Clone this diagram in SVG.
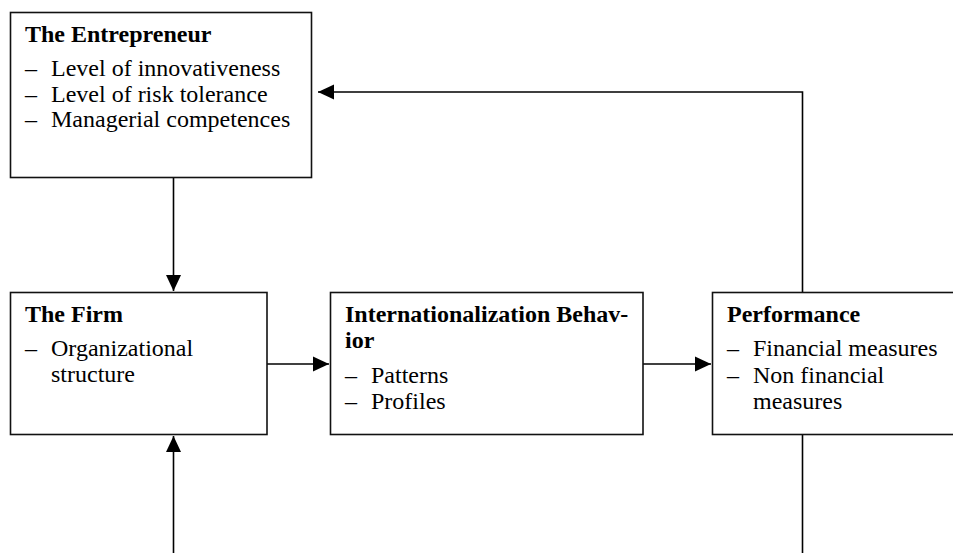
<svg xmlns="http://www.w3.org/2000/svg" width="953" height="553" viewBox="0 0 953 553">
<style>
.box{fill:#fff;stroke:#111;stroke-width:1.6}
.t{font-family:"Liberation Serif","Times New Roman",serif;font-size:24px;fill:#000}
.b{font-weight:bold}
.c{fill:none;stroke:#000;stroke-width:1.6}
</style>
<defs>
<marker id="ah" markerUnits="userSpaceOnUse" markerWidth="16" markerHeight="16" refX="16" refY="8" orient="auto" viewBox="0 0 16 16">
<path d="M0,0.5 L16,8 L0,15.5 z" fill="#000"/>
</marker>
</defs>
<rect width="953" height="553" fill="#fff"/>
<g id="connectors">
<line class="c" x1="173.5" y1="177" x2="173.5" y2="291" marker-end="url(#ah)"/>
<line class="c" x1="267" y1="364" x2="329" y2="364" marker-end="url(#ah)"/>
<line class="c" x1="643" y1="364" x2="711" y2="364" marker-end="url(#ah)"/>
<polyline class="c" points="802.5,292 802.5,92 318,92" marker-end="url(#ah)"/>
<line class="c" x1="173.5" y1="553" x2="173.5" y2="436" marker-end="url(#ah)"/>
<line class="c" x1="802.5" y1="434" x2="802.5" y2="553"/>
</g>
<g id="entrepreneur">
<rect class="box" x="10.5" y="12.5" width="301" height="165"/>
<text class="t b" x="25" y="42">The Entrepreneur</text>
<text class="t" x="25" y="76">–</text><text class="t" x="51" y="76">Level of innovativeness</text>
<text class="t" x="25" y="101.5">–</text><text class="t" x="51" y="101.5">Level of risk tolerance</text>
<text class="t" x="25" y="127">–</text><text class="t" x="51" y="127">Managerial competences</text>
</g>
<g id="firm">
<rect class="box" x="10.5" y="292.5" width="256.5" height="142"/>
<text class="t b" x="25" y="322">The Firm</text>
<text class="t" x="25" y="356">–</text><text class="t" x="51" y="356">Organizational</text>
<text class="t" x="51" y="382">structure</text>
</g>
<g id="internationalization">
<rect class="box" x="330.5" y="292.5" width="312.5" height="142"/>
<text class="t b" x="345" y="322">Internationalization Behav-</text>
<text class="t b" x="345" y="348">ior</text>
<text class="t" x="345" y="383">–</text><text class="t" x="371" y="383">Patterns</text>
<text class="t" x="345" y="409">–</text><text class="t" x="371" y="409">Profiles</text>
</g>
<g id="performance">
<rect class="box" x="712.5" y="292.5" width="250" height="142"/>
<text class="t b" x="727" y="322">Performance</text>
<text class="t" x="727" y="356">–</text><text class="t" x="753" y="356">Financial measures</text>
<text class="t" x="727" y="383">–</text><text class="t" x="753" y="383">Non financial</text>
<text class="t" x="753" y="409">measures</text>
</g>
</svg>
